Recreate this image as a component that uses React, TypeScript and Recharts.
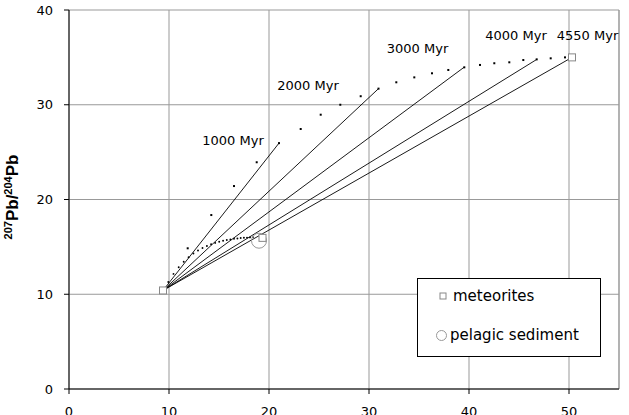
import { ScatterChart, Scatter, XAxis, YAxis, CartesianGrid, ReferenceLine } from 'recharts';

// primordial (Canyon Diablo) lead, start of every isochron
const primordialX = 9.4;
const primordialY = 10.4;

const isochronLabels = ['1000 Myr', '2000 Myr', '3000 Myr', '4000 Myr', '4550 Myr'];
const isochronEndX = [21.0, 30.95, 39.5, 46.8, 50.3];
const isochronEndY = [25.95, 31.7, 33.95, 34.8, 35.0];
const labelX = [16.4, 23.9, 34.85, 44.7, 51.85];
const labelY = [26.2, 32.0, 35.9, 37.35, 37.35];

// upper dotted curve, 200 Myr steps
const ageCurveX = [11.87, 14.23, 16.5, 18.77, 21.0, 23.17, 25.17, 27.13, 29.17, 30.95, 32.73, 34.53, 36.3, 37.93, 39.53, 41.1, 42.53, 44.03, 45.43, 46.77, 48.17, 49.6];
const ageCurveY = [14.85, 18.36, 21.42, 23.93, 25.95, 27.44, 28.95, 30.0, 30.9, 31.7, 32.37, 32.89, 33.32, 33.67, 33.95, 34.2, 34.38, 34.48, 34.72, 34.79, 34.9, 35.0];

// lower dotted growth curve
const growthX = [9.93, 10.45, 10.97, 11.47, 11.96, 12.44, 12.9, 13.35, 13.79, 14.21, 14.62, 15.02, 15.41, 15.78, 16.14, 16.5, 16.84, 17.17, 17.49, 17.8, 18.1, 18.4];
const growthY = [11.3, 12.15, 12.85, 13.43, 13.91, 14.3, 14.62, 14.88, 15.1, 15.28, 15.42, 15.54, 15.64, 15.72, 15.79, 15.85, 15.89, 15.93, 15.96, 15.98, 16.0, 16.03];

const meteoriteX = [9.4, 19.35, 50.3];
const meteoriteY = [10.4, 15.95, 35.0];
const sedimentX = [19.0];
const sedimentY = [15.65];

const xTicks = [0, 10, 20, 30, 40, 50];
const yTicks = [0, 10, 20, 30, 40];

const FONT = 'DejaVu Sans';

const zip = (xs: number[], ys: number[]) => xs.map((x, i) => ({ x, y: ys[i] }));

const Hidden = () => <g />;
const BigDot = (p: any) => <rect x={p.cx - 1} y={p.cy - 1} width={2} height={2} fill="#000" />;
const SmallDot = (p: any) => <circle cx={p.cx} cy={p.cy} r={0.95} fill="#000" />;
const SquareMark = (p: any) => (
  <rect x={p.cx - 3.5} y={p.cy - 3.5} width={7} height={7} fill="#fff" stroke="#888" strokeWidth={1} />
);
const CircleMark = (p: any) => <circle cx={p.cx} cy={p.cy} r={7.5} fill="none" stroke="#999" strokeWidth={1} />;
const AgeLabel = (p: any) => (
  <text x={p.cx} y={p.cy} textAnchor="middle" dominantBaseline="central" fontSize={13} fontFamily={FONT} fill="#000">
    {p.payload.label}
  </text>
);

const YTitle = () => (
  <text
    x={18}
    y={197}
    transform="rotate(-90, 18, 197)"
    textAnchor="middle"
    fontFamily="Liberation Sans"
    fontWeight="bold"
    fill="#000"
  >
    <tspan fontSize={11} dy={-6}>207</tspan>
    <tspan fontSize={17} dy={6}>Pb/</tspan>
    <tspan fontSize={11} dy={-6}>204</tspan>
    <tspan fontSize={17} dy={6}>Pb</tspan>
  </text>
);

export default function App() {
  const labelData = isochronLabels.map((label, i) => ({ x: labelX[i], y: labelY[i], label }));

  return (
    <div style={{ position: 'absolute', left: 0, top: 0, width: 629, height: 415, background: '#fff' }}>
      <ScatterChart width={629} height={415} margin={{ top: 10, right: 10, left: 0, bottom: 0 }}>
        <CartesianGrid stroke="#999" />
        <XAxis
          type="number"
          dataKey="x"
          domain={[0, 55]}
          ticks={xTicks}
          allowDataOverflow
          height={26}
          stroke="#000"
          tickSize={5}
          tickMargin={13}
          tick={{ fill: '#000', fontSize: 13, fontFamily: FONT }}
        />
        <YAxis
          type="number"
          dataKey="y"
          domain={[0, 40]}
          ticks={yTicks}
          allowDataOverflow
          width={69}
          stroke="#000"
          tickSize={5}
          tickMargin={11}
          tick={{ fill: '#000', fontSize: 13, fontFamily: FONT }}
          label={<YTitle />}
        />
        <ReferenceLine x={55} stroke="#999" />
        {isochronEndX.map((ex, i) => (
          <Scatter
            key={isochronLabels[i]}
            data={[{ x: primordialX, y: primordialY }, { x: ex, y: isochronEndY[i] }]}
            line={{ stroke: '#000', strokeWidth: 0.9 }}
            shape={Hidden}
            isAnimationActive={false}
          />
        ))}
        <Scatter data={zip(ageCurveX, ageCurveY)} shape={BigDot} isAnimationActive={false} />
        <Scatter data={zip(growthX, growthY)} shape={SmallDot} isAnimationActive={false} />
        <Scatter data={zip(sedimentX, sedimentY)} shape={CircleMark} isAnimationActive={false} />
        <Scatter data={zip(meteoriteX, meteoriteY)} shape={SquareMark} isAnimationActive={false} />
        <Scatter data={labelData} shape={AgeLabel} isAnimationActive={false} />
      </ScatterChart>
      <div
        style={{
          position: 'absolute',
          left: 417,
          top: 278,
          width: 182,
          height: 77,
          border: '1px solid #000',
          background: '#fff',
          fontFamily: FONT,
          fontSize: 15,
          color: '#000',
        }}
      >
        <div style={{ position: 'absolute', left: 20, top: 8, display: 'flex', alignItems: 'center' }}>
          <svg width={10} height={10} style={{ marginRight: 5 }}>
            <rect x={2} y={2} width={6} height={6} fill="#fff" stroke="#888" />
          </svg>
          <span>meteorites</span>
        </div>
        <div style={{ position: 'absolute', left: 17, top: 47, display: 'flex', alignItems: 'center' }}>
          <svg width={13} height={13} style={{ marginRight: 2 }}>
            <circle cx={6.5} cy={6.5} r={5} fill="none" stroke="#999" />
          </svg>
          <span>pelagic sediment</span>
        </div>
      </div>
    </div>
  );
}
